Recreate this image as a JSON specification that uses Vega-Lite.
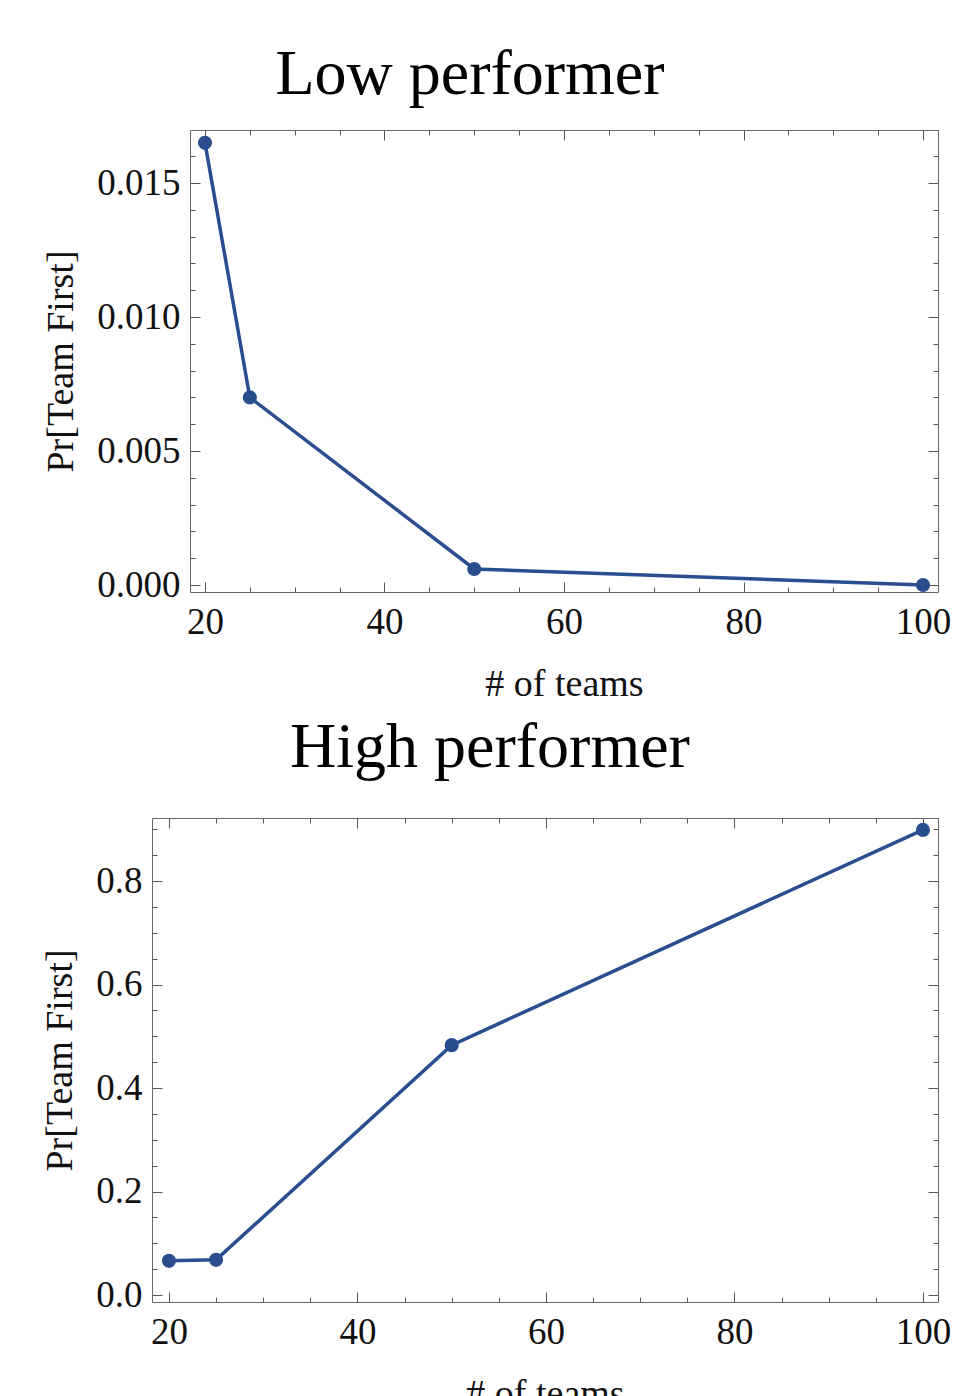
{
  "$schema": "https://vega.github.io/schema/vega-lite/v6.json",
  "padding": {"left": 41, "top": 42, "right": 5, "bottom": 0},
  "background": "white",
  "datasets": {
    "low": [
      {"teams": 20, "pr": 0.0165},
      {"teams": 25, "pr": 0.0070},
      {"teams": 50, "pr": 0.0006},
      {"teams": 100, "pr": 0.0000}
    ],
    "high": [
      {"teams": 20, "pr": 0.066},
      {"teams": 25, "pr": 0.068},
      {"teams": 50, "pr": 0.483},
      {"teams": 100, "pr": 0.899}
    ]
  },
  "config": {
    "font": "Liberation Serif",
    "view": {"stroke": null},
    "axis": {
      "labelFont": "Liberation Serif",
      "titleFont": "Liberation Serif",
      "labelFontSize": 37,
      "titleFontSize": 38,
      "titleFontWeight": "normal",
      "labelColor": "#111111",
      "titleColor": "#111111",
      "domainColor": "#666666",
      "domainWidth": 1,
      "tickColor": "#555555",
      "tickWidth": 1,
      "grid": false,
      "labelOverlap": false,
      "labelFlush": false
    },
    "title": {"font": "Liberation Serif", "fontSize": 64, "fontWeight": "normal", "color": "#000000"}
  },
  "vconcat": [
    {
      "title": {"text": "Low performer", "dx": -75, "offset": 23},
      "width": 786,
      "height": 462,
      "data": {"name": "low"},
      "layer": [
        {
          "mark": {"type": "line", "color": "#2a4d8f", "strokeWidth": 3.5},
          "encoding": {
            "x": {"field": "teams", "type": "quantitative", "scale": {"domain": [18.33, 101.67], "range": [38, 786], "nice": false, "zero": false},
              "axis": {"orient": "bottom", "title": "#  of  teams", "titlePadding": 20,
                "values": [20,25,30,35,40,45,50,55,60,65,70,75,80,85,90,95,100],
                "labelExpr": "datum.value % 20 === 0 ? datum.label : ''",
                "tickSize": {"condition": {"test": "datum.value % 20 === 0", "value": -10}, "value": -5},
                "labelPadding": 22}},
            "y": {"field": "pr", "type": "quantitative", "scale": {"domain": [-0.00026, 0.01698], "nice": false, "zero": false},
              "axis": {"orient": "left", "offset": -38, "title": "Pr[Team First]", "titlePadding": 16,
                "values": [0,0.001,0.002,0.003,0.004,0.005,0.006,0.007,0.008,0.009,0.010,0.011,0.012,0.013,0.014,0.015,0.016],
                "labelExpr": "abs(datum.value*200 - round(datum.value*200)) < 0.001 ? format(datum.value, '.3f') : ''",
                "tickSize": {"condition": {"test": "abs(datum.value*200 - round(datum.value*200)) < 0.001", "value": -10}, "value": -5},
                "labelPadding": 20}}
          }
        },
        {
          "mark": {"type": "point", "filled": true, "size": 200, "color": "#2a4d8f", "opacity": 1},
          "encoding": {
            "x": {"field": "teams", "type": "quantitative", "axis": null},
            "y": {"field": "pr", "type": "quantitative", "axis": null}
          }
        },
        {
          "mark": {"type": "point", "opacity": 0},
          "encoding": {
            "x": {"field": "teams", "type": "quantitative",
              "axis": {"orient": "top", "title": null, "labels": false,
                "values": [20,25,30,35,40,45,50,55,60,65,70,75,80,85,90,95,100],
                "tickSize": {"condition": {"test": "datum.value % 20 === 0", "value": -10}, "value": -5}}},
            "y": {"field": "pr", "type": "quantitative",
              "axis": {"orient": "right", "title": null, "labels": false,
                "values": [0,0.001,0.002,0.003,0.004,0.005,0.006,0.007,0.008,0.009,0.010,0.011,0.012,0.013,0.014,0.015,0.016],
                "tickSize": {"condition": {"test": "abs(datum.value*200 - round(datum.value*200)) < 0.001", "value": -10}, "value": -5}}}
          }
        }
      ],
      "resolve": {"axis": {"x": "independent", "y": "independent"}}
    },
    {
      "title": {"text": "High performer", "dx": -55, "offset": 30},
      "width": 786,
      "height": 484,
      "data": {"name": "high"},
      "layer": [
        {
          "mark": {"type": "line", "color": "#2a4d8f", "strokeWidth": 3.5},
          "encoding": {
            "x": {"field": "teams", "type": "quantitative", "scale": {"domain": [18.2, 101.6], "nice": false, "zero": false},
              "axis": {"orient": "bottom", "title": "#  of  teams", "titlePadding": 20,
                "values": [20,25,30,35,40,45,50,55,60,65,70,75,80,85,90,95,100],
                "labelExpr": "datum.value % 20 === 0 ? datum.label : ''",
                "tickSize": {"condition": {"test": "datum.value % 20 === 0", "value": -10}, "value": -5},
                "labelPadding": 22}},
            "y": {"field": "pr", "type": "quantitative", "scale": {"domain": [-0.0135, 0.922], "nice": false, "zero": false},
              "axis": {"orient": "left", "title": "Pr[Team First]", "titlePadding": 16,
                "values": [0,0.05,0.1,0.15,0.2,0.25,0.3,0.35,0.4,0.45,0.5,0.55,0.6,0.65,0.7,0.75,0.8,0.85,0.9],
                "labelExpr": "abs(datum.value*5 - round(datum.value*5)) < 0.001 ? format(datum.value, '.1f') : ''",
                "tickSize": {"condition": {"test": "abs(datum.value*5 - round(datum.value*5)) < 0.001", "value": -10}, "value": -5},
                "labelPadding": 20}}
          }
        },
        {
          "mark": {"type": "point", "filled": true, "size": 200, "color": "#2a4d8f", "opacity": 1},
          "encoding": {
            "x": {"field": "teams", "type": "quantitative", "axis": null},
            "y": {"field": "pr", "type": "quantitative", "axis": null}
          }
        },
        {
          "mark": {"type": "point", "opacity": 0},
          "encoding": {
            "x": {"field": "teams", "type": "quantitative",
              "axis": {"orient": "top", "title": null, "labels": false,
                "values": [20,25,30,35,40,45,50,55,60,65,70,75,80,85,90,95,100],
                "tickSize": {"condition": {"test": "datum.value % 20 === 0", "value": -10}, "value": -5}}},
            "y": {"field": "pr", "type": "quantitative",
              "axis": {"orient": "right", "title": null, "labels": false,
                "values": [0,0.05,0.1,0.15,0.2,0.25,0.3,0.35,0.4,0.45,0.5,0.55,0.6,0.65,0.7,0.75,0.8,0.85,0.9],
                "tickSize": {"condition": {"test": "abs(datum.value*5 - round(datum.value*5)) < 0.001", "value": -10}, "value": -5}}}
          }
        }
      ],
      "resolve": {"axis": {"x": "independent", "y": "independent"}}
    }
  ],
  "spacing": 13
}
